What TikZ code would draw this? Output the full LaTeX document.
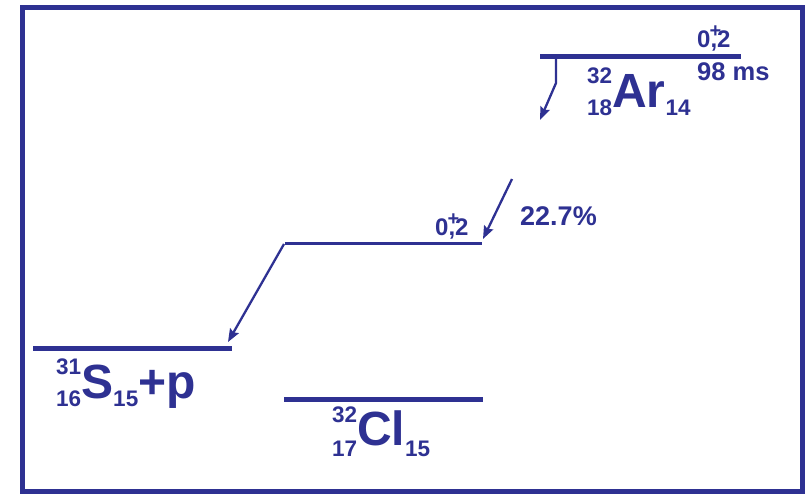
\documentclass[tikz,border=0pt]{standalone}
\usepackage{fontspec}
\setmainfont{Liberation Sans}
\usetikzlibrary{arrows.meta}
\definecolor{navy}{RGB}{46,49,146}
\newcommand\nuclidelabel[6]{%
  {\fontsize{22.5}{22.5}\selectfont\makebox[0pt][l]{\raisebox{#5pt}{#1}}\raisebox{-#6pt}{#2}}%
  #3{\fontsize{22.5}{22.5}\selectfont\raisebox{-#6pt}{#4}}}
\newcommand\spinlabel{0\makebox[0pt][l]{\hspace{-1pt}\raisebox{10pt}{\fontsize{20}{20}\selectfont +}},2}
\begin{document}
\begin{tikzpicture}[x=1pt,y=-1pt,
  level/.style={line width=5pt,navy},
  thinlevel/.style={line width=3pt,navy},
  decay/.style={line width=2.3pt,navy,-{Stealth[length=13pt,width=10pt,inset=2pt]}},
  txt/.style={inner sep=0pt,text=navy,font=\bfseries},
  every node/.style={inner sep=0pt}]
\useasboundingbox (0,0) rectangle (810,493);
\draw[line width=5pt,navy] (22.5,7.5) rectangle (802.5,491);
% levels
\coordinate (arL) at (540,56); \coordinate (arR) at (741,56);
\coordinate (midL) at (285,243); \coordinate (midR) at (482,243);
\coordinate (sL) at (33,348); \coordinate (sR) at (232,348);
\coordinate (clL) at (284,399); \coordinate (clR) at (483,399);
\draw[level] (arL) -- (arR);
\draw[thinlevel] (midL) -- (midR);
\draw[level] (sL) -- (sR);
\draw[level] (clL) -- (clR);
% arrows
\coordinate (a1s) at (556,57); \coordinate (a1k) at (556,83); \coordinate (a1e) at (540,120);
\draw[decay] (a1s) -- (a1k) -- (a1e);
\coordinate (a2s) at (512,179); \coordinate (a2e) at (483,239);
\draw[decay] (a2s) -- (a2e);
\coordinate (a3s) at (284,244); \coordinate (a3e) at (228,342);
\draw[decay] (a3s) -- (a3e);
% labels
\node[txt,anchor=base west,font=\bfseries\fontsize{24}{24}\selectfont] (spinAr) at (697,47) {\spinlabel};
\node[txt,anchor=base west,font=\bfseries\fontsize{25.5}{25.5}\selectfont] (life) at (697,80) {98 ms};
\node[txt,anchor=base west,font=\bfseries\fontsize{48}{48}\selectfont] (ar) at (587,107) {\nuclidelabel{32}{18}{Ar}{14}{24}{8}};
\node[txt,anchor=base west,font=\bfseries\fontsize{27}{27}\selectfont] (br) at (520,225) {22.7\%};
\node[txt,anchor=base west,font=\bfseries\fontsize{24}{24}\selectfont] (spinMid) at (435,235) {\spinlabel};
\node[txt,anchor=base west,font=\bfseries\fontsize{48}{48}\selectfont] (s) at (56,398) {\nuclidelabel{31}{16}{S}{15}{24}{8}+p};
\node[txt,anchor=base west,font=\bfseries\fontsize{48}{48}\selectfont] (cl) at (332,445) {\nuclidelabel{32}{17}{Cl}{15}{23}{11}};
\end{tikzpicture}
\end{document}
